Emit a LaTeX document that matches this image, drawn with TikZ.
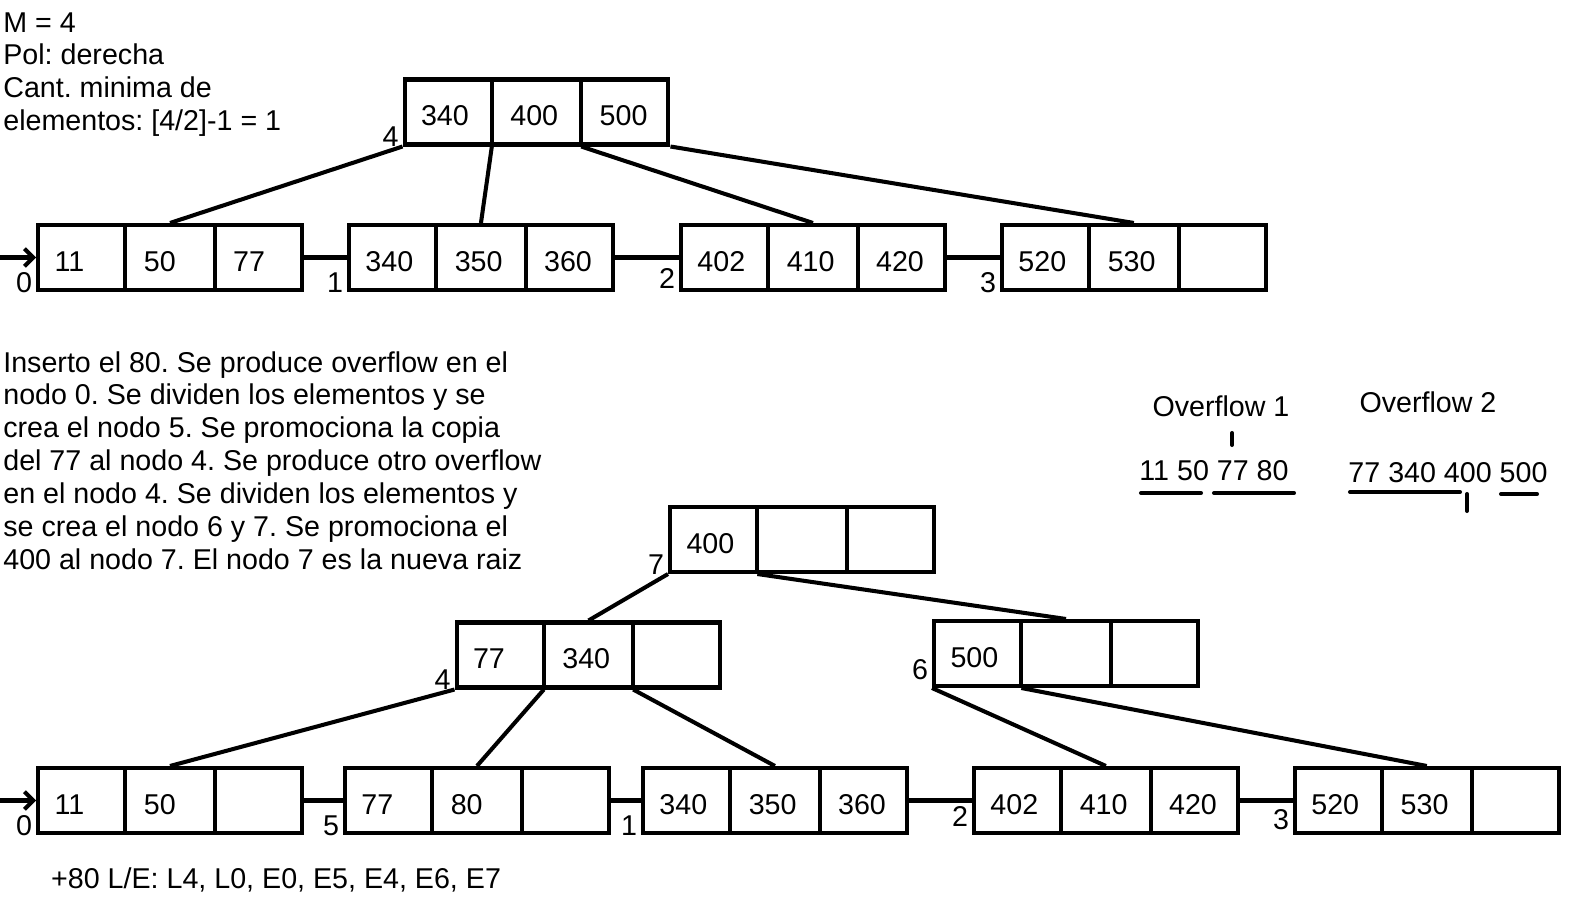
\documentclass[tikz,border=0pt]{standalone}
\usepackage{fontspec}
\setmainfont{Liberation Sans}
\usetikzlibrary{arrows.meta,positioning,shapes.multipart}
\newlength{\cellw}
\setlength{\cellw}{1.706cm}
\newcommand{\keycell}[1]{\makebox[\cellw][l]{\hspace{0.33cm}\rule[-0.37cm]{0pt}{1.30cm}#1}}
\newcommand{\keys}[3]{\keycell{#1}\nodepart{two}\keycell{#2}\nodepart{three}\keycell{#3}}
\frenchspacing

\begin{document}
\begin{tikzpicture}[x=0.02cm, y=-0.02cm,
  every node/.style={font=\fontsize{16.3pt}{18.7pt}\selectfont},
  bnode/.style={draw, line width=2.3pt, rectangle split, rectangle split horizontal, rectangle split parts=3, inner sep=0pt},
  lbl/.style={anchor=base east, inner sep=2pt},
  link/.style={line width=2.3pt},
  ulmark/.style={line width=2.3pt, line cap=round}]
\useasboundingbox (0,0) rectangle (1572,908);

% datos del arbol
\node[anchor=north west, inner sep=0pt, align=left] (datos) at (3,12) {M = 4\\Pol: derecha\\Cant. minima de\\elementos: [4/2]-1 = 1};

% arbol inicial
\node[bnode] (r4) at (536.5,112) {\keys{340}{400}{500}};
\node[bnode] (h0) at (170,257.5) {\keys{11}{50}{77}};
\node[bnode, right=0.86cm of h0] (h1) {\keys{340}{350}{360}};
\node[bnode, right=1.28cm of h1] (h2) {\keys{402}{410}{420}};
\node[bnode, right=1.06cm of h2] (h3) {\keys{520}{530}{}};
\node[lbl] (e4) at (r4.south west) {4};
\node[lbl] (e0) at (h0.south west) {0};
\node[lbl] (e1) at (h1.south west) {1};
\node[lbl] (e2) at ([yshift=2pt]h2.south west) {2};
\node[lbl] (e3) at (h3.south west) {3};
\coordinate (in0) at (0,257.5);
\draw[link, -{Straight Barb[length=5pt,width=10pt]}] (in0) -- (h0.west);
\draw[link] (r4.south west) -- (h0.two north);
\draw[link] (r4.one split south) -- (h1.two north);
\draw[link] (r4.two split south) -- (h2.two north);
\draw[link] (r4.south east) -- (h3.two north);
\draw[link] (h0.east) -- (h1.west);
\draw[link] (h1.east) -- (h2.west);
\draw[link] (h2.east) -- (h3.west);

% explicacion
\node[anchor=north west, inner sep=0pt, align=left] (texto) at (3,351) {Inserto el 80. Se produce overflow en el\\nodo 0. Se dividen los elementos y se\\crea el nodo 5. Se promociona la copia\\del 77 al nodo 4. Se produce otro overflow\\en el nodo 4. Se dividen los elementos y\\se crea el nodo 6 y 7. Se promociona el\\400 al nodo 7. El nodo 7 es la nueva raiz};

% overflows
\node[anchor=base] (ov1) at (1221,417) {Overflow 1};
\node[anchor=base] (ov1k) at (1214,481) {11 50 77 80};
\node[anchor=base] (ov2) at (1428,413) {Overflow 2};
\node[anchor=base] (ov2k) at (1448,483) {77 340 400 500};
\draw[ulmark] (1232,433) -- (1232,445);
\draw[ulmark] (1141,493) -- (1201,493);
\draw[ulmark] (1214,493) -- (1294,493);
\draw[ulmark] (1350,492) -- (1460,492);
\draw[ulmark] (1501,494) -- (1537,494);
\draw[ulmark] (1467,494) -- (1467,511);

% arbol final
\node[bnode] (n7) at (802,539.5) {\keys{400}{}{}};
\node[bnode] (n4) at (588.5,655) {\keys{77}{340}{}};
\node[bnode] (n6) at (1066,653.5) {\keys{500}{}{}};
\node[bnode] (m0) at (170,800.5) {\keys{11}{50}{}};
\node[bnode, right=0.78cm of m0] (m5) {\keys{77}{80}{}};
\node[bnode, right=0.60cm of m5] (m1) {\keys{340}{350}{360}};
\node[bnode, right=1.26cm of m1] (m2) {\keys{402}{410}{420}};
\node[bnode, right=1.06cm of m2] (m3) {\keys{520}{530}{}};
\node[lbl] (f7) at (n7.south west) {7};
\node[lbl] (f4) at (n4.south west) {4};
\node[lbl] (f6) at ([yshift=5pt]n6.south west) {6};
\node[lbl] (f0) at (m0.south west) {0};
\node[lbl] (f5) at (m5.south west) {5};
\node[lbl] (f1) at (m1.south west) {1};
\node[lbl] (f2) at ([yshift=5pt]m2.south west) {2};
\node[lbl] (f3) at ([yshift=3pt]m3.south west) {3};
\coordinate (in1) at (0,800.5);
\draw[link, -{Straight Barb[length=5pt,width=10pt]}] (in1) -- (m0.west);
\draw[link] (n7.south west) -- (n4.two north);
\draw[link] (n7.one split south) -- (n6.two north);
\draw[link] (n4.south west) -- (m0.two north);
\draw[link] (n4.one split south) -- (m5.two north);
\draw[link] (n4.two split south) -- (m1.two north);
\draw[link] (n6.south west) -- (m2.two north);
\draw[link] (n6.one split south) -- (m3.two north);
\draw[link] (m0.east) -- (m5.west);
\draw[link] (m5.east) -- (m1.west);
\draw[link] (m1.east) -- (m2.west);
\draw[link] (m2.east) -- (m3.west);

\node[anchor=base west] (le) at (45,888) {+80 L/E: L4, L0, E0, E5, E4, E6, E7};
\end{tikzpicture}
\end{document}
